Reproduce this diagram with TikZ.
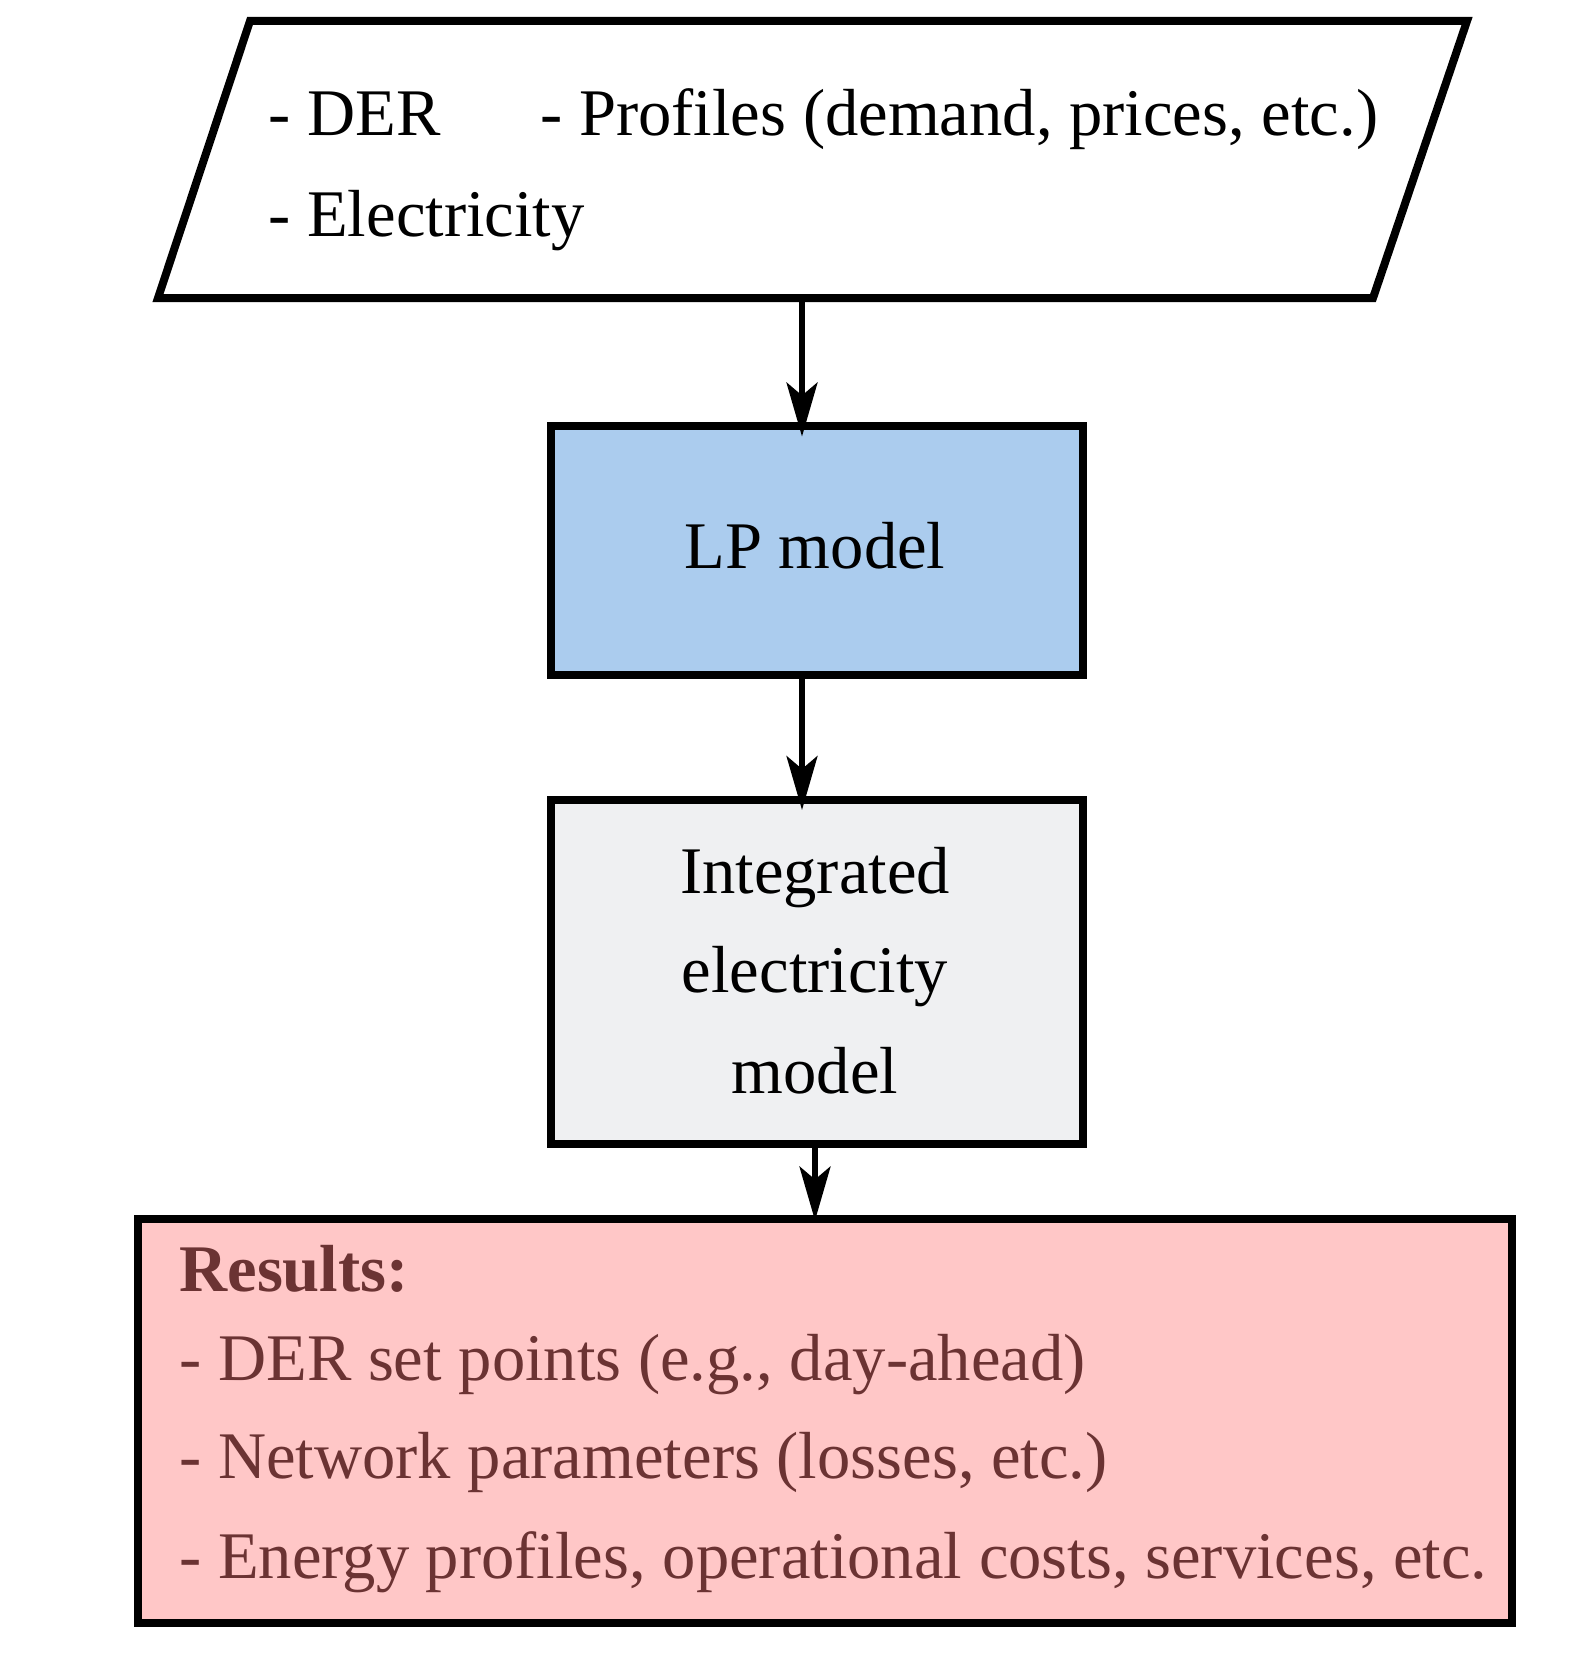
\documentclass[tikz,border=0pt]{standalone}
\usepackage{fontspec}
\setmainfont{Liberation Serif}
\usetikzlibrary{arrows.meta}
\definecolor{lpblue}{HTML}{ABCCEE}
\definecolor{intgrey}{HTML}{EFF0F2}
\definecolor{respink}{HTML}{FFC7C7}
\definecolor{restext}{HTML}{6B3333}
\tikzset{
  border/.style={line width=4pt, line join=miter},
  conn/.style={line width=2.6pt, -{Stealth[length=27pt, width=15.5pt, inset=6.5pt]}},
  txt/.style={inner sep=0pt, font=\fontsize{33.3}{50}\selectfont},
  box/.style={border, draw=black, inner sep=0pt, outer sep=0pt},
}
\begin{document}
\begin{tikzpicture}[x=0.5pt, y=-0.5pt]
\useasboundingbox (0,0) rectangle (1594,1669);
% input parallelogram
\coordinate (p1) at (250,21);
\coordinate (p2) at (1467,21);
\coordinate (p3) at (1373,298);
\coordinate (p4) at (158,298);
\draw[border] (p1) -- (p2) -- (p3) -- (p4) -- cycle;
\node[txt, anchor=base west] (der) at (268,136) {- DER};
\node[txt, anchor=base west] (prof) at (540,136) {- Profiles (demand, prices, etc.)};
\node[txt, anchor=base west] (elec) at (268,236) {- Electricity};
% LP model
\node[box, fill=lpblue, minimum width=265.75pt, minimum height=124.75pt] (lp) at (816.75,550.25) {};
\node[txt, anchor=base] (lptxt) at (815,568) {LP model};
% integrated model
\node[box, fill=intgrey, minimum width=265.75pt, minimum height=171.75pt] (im) at (816.75,971.75) {};
\node[txt, anchor=base] (imt1) at (815,893) {Integrated};
\node[txt, anchor=base] (imt2) at (815,992) {electricity};
\node[txt, anchor=base] (imt3) at (815,1093) {model};
% results
\node[box, fill=respink, minimum width=687pt, minimum height=202.25pt] (res) at (825,1420.75) {};
\node[txt, anchor=base west, text=restext, font=\fontsize{33.3}{50}\selectfont\bfseries] (rt0) at (179,1291) {Results:};
\node[txt, anchor=base west, text=restext] (rt1) at (179,1380) {- DER set points (e.g., day-ahead)};
\node[txt, anchor=base west, text=restext] (rt2) at (179,1478) {- Network parameters (losses, etc.)};
\node[txt, anchor=base west, text=restext] (rt3) at (179,1578) {- Energy profiles, operational costs, services, etc.};
% connectors
\coordinate (a1) at (802,298);
\coordinate (a3) at (815,1143.5);
\draw[conn, shorten >=-5.5pt] (a1) -- (lp.north -| a1);
\draw[conn, shorten >=-5pt] (lp.south -| a1) -- (im.north -| a1);
\draw[conn, shorten >=-1pt] (a3) -- (res.north -| a3);
\end{tikzpicture}
\end{document}
